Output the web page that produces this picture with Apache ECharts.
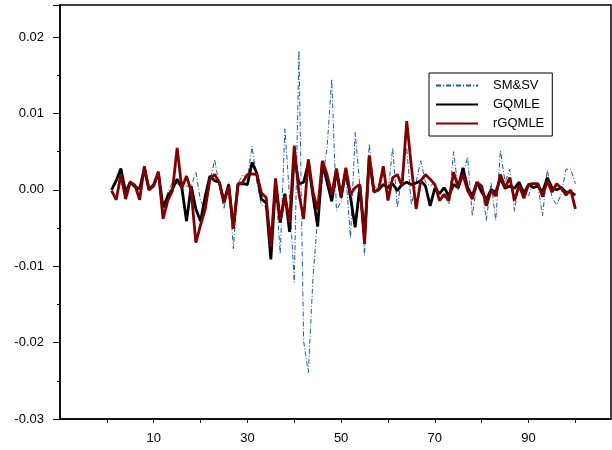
<!DOCTYPE html>
<html>
<head>
<meta charset="utf-8">
<script src="https://cdn.jsdelivr.net/npm/echarts@6/dist/echarts.min.js"></script>
<style>
  html, body { margin: 0; padding: 0; background: #fff; }
  #chart { width: 612px; height: 450px; }
</style>
</head>
<body>
<div id="chart"></div>
<script>
// x positions 1..100
const steps = Array.from({ length: 100 }, (_, k) => k + 1);

// values in units of 0.001
const smsv = [
  0.0, 1.5, 1.0, -0.5, 1.2, 0.3, -0.5, 2.0, 0.5, 0.3,
  1.8, -2.8, -0.3, 1.0, 0.8, 0.5, 0.5, 0.5, 2.3, -1.5,
  -2.5, 1.0, 4.0, 0.5, -2.5, 1.0, -7.7, 0.8, 2.0, 1.5,
  5.7, 1.0, -2.0, -2.3, -5.5, 1.0, -8.4, 8.0, -1.0, -12.1,
  18.2, -19.8, -23.9, -11.5, -3.6, 1.2, 5.5, 14.5, -2.7, -1.5,
  2.0, -6.3, 7.5, 0.5, -8.6, 6.0, 0.5, 0.0, 2.0, -0.5,
  5.5, -2.3, 2.0, 5.5, -2.0, 1.0, 3.8, 1.0, 0.5, 1.0,
  -0.5, -1.0, -1.8, 5.0, 0.0, 2.0, 4.3, -3.4, 1.0, 0.5,
  -4.0, 1.0, -4.0, 5.1, 1.0, 2.7, -2.8, 1.0, 0.0, -0.8,
  1.0, 0.5, -3.4, 2.7, -1.0, -2.0, -0.5, 2.7, 2.7, 0.8
];
const gqmle = [
  0.0, 1.2, 2.8, -0.3, 1.0, 0.4, 0.1, 2.8, 0.0, 0.7,
  2.2, -2.3, -0.8, 0.1, 1.4, 0.3, -4.1, 0.5, -2.5, -4.1,
  -0.8, 1.8, 1.2, 1.0, -1.5, 0.7, -5.0, 0.8, 0.8, 0.7,
  3.6, 2.2, -1.2, -1.7, -9.1, 0.8, -4.3, -0.5, -5.5, 4.5,
  0.8, 1.0, 3.5, -0.8, -4.8, 3.6, 1.0, -1.5, 2.5, -1.0,
  2.5, -1.0, -4.9, 0.5, -6.0, 4.2, -0.2, 0.0, 0.7, 0.3,
  0.8, -0.1, 0.7, 1.0, 0.7, 0.9, 1.2, 0.5, -2.1, 0.2,
  -0.5, 0.3, -0.8, 0.7, 0.3, 2.9, 0.3, -0.8, 1.0, -0.3,
  -1.2, 0.0, -0.3, 1.5, 0.2, 0.5, 0.2, 1.0, -0.5, 0.7,
  0.3, 0.5, -0.3, 1.6, 0.3, 0.0, 0.3, -0.3, -0.3, -0.7
];
const rgqmle = [
  -0.1, -1.3, 2.0, -1.2, 1.0, 0.6, -1.3, 3.1, 0.0, 0.5,
  2.4, -3.8, -1.4, -0.1, 5.5, 0.2, 1.8, -0.2, -6.9, -4.6,
  -2.5, 1.4, 2.0, 1.0, -1.7, 0.5, -5.1, 0.7, 1.0, 2.0,
  2.1, 2.0, -0.4, -1.0, -7.5, 1.5, -4.0, -0.8, -4.2, 5.8,
  -0.5, -3.8, 4.0, -0.3, -2.6, 3.8, 2.0, -0.6, 2.8, -0.8,
  2.9, -0.6, 0.3, 0.7, -7.1, 4.5, -0.3, 0.0, 3.1, -1.4,
  1.6, 2.0, 0.5, 9.0, 3.0, -2.5, 1.2, 2.0, 1.4, 0.7,
  -1.4, -0.6, -1.4, 2.3, 0.3, 2.0, -0.1, -1.2, 1.0, 0.5,
  -2.1, -0.1, -0.8, 2.0, 0.3, 1.6, -1.4, 0.6, -1.1, 0.7,
  0.8, 0.8, -0.9, 1.2, -0.3, 0.8, 0.2, -0.7, 0.0, -2.5
];

const xLabels = [10, 30, 50, 70, 90];
const yLabels = [-0.03, -0.02, -0.01, 0.00, 0.01, 0.02];

const pairs = (ys) => steps.map((x, k) => [x, ys[k] / 1000]);
const font = 'Liberation Sans, Arial, sans-serif';

const chart = echarts.init(document.getElementById('chart'));
chart.setOption({
  animation: false,
  backgroundColor: '#fff',
  grid: {
    left: 60, right: 1, top: 5, bottom: 31,
    show: true, borderColor: '#000', borderWidth: 1.5
  },
  legend: {
    orient: 'vertical',
    left: 429, top: 73,
    backgroundColor: '#fff',
    borderColor: '#000', borderWidth: 1, borderRadius: 0,
    padding: [6, 8, 6, 6],
    itemWidth: 42, itemHeight: 13, itemGap: 6,
    itemStyle: { opacity: 0 },
    textStyle: { fontFamily: font, fontSize: 13, color: '#000', padding: [0, 0, 0, 10] },
    data: ['SM&SV', 'GQMLE', 'rGQMLE']
  },
  xAxis: {
    type: 'value',
    min: -10, max: 107.6, interval: 10,
    splitLine: { show: false },
    axisLine: { onZero: false, lineStyle: { color: '#000', width: 1.5 } },
    axisTick: { length: 4, lineStyle: { color: '#000' } },
    axisLabel: {
      margin: 13,
      fontFamily: font, fontSize: 13, color: '#000',
      showMinLabel: false, showMaxLabel: false,
      formatter: (v) => (xLabels.includes(Math.round(v)) && Math.abs(v - Math.round(v)) < 1e-6 ? String(Math.round(v)) : '')
    }
  },
  yAxis: {
    type: 'value',
    min: -0.03, max: 0.0242, interval: 0.01,
    splitLine: { show: false },
    axisLine: { show: true, onZero: false, lineStyle: { color: '#000', width: 1.5 } },
    axisTick: { show: true, length: 7, lineStyle: { color: '#000' } },
    minorTick: { show: true, splitNumber: 2, length: 3, lineStyle: { color: '#000' } },
    axisLabel: {
      margin: 16,
      fontFamily: font, fontSize: 13, color: '#000',
      showMaxLabel: false,
      formatter: (v) => {
        const hit = yLabels.find((t) => Math.abs(t - v) < 1e-6);
        return hit === undefined ? '' : hit.toFixed(2);
      }
    }
  },
  series: [
    {
      name: 'SM&SV', type: 'line', data: pairs(smsv), symbol: 'none',
      lineStyle: { color: '#1f5aa6', width: 1, type: [5, 2, 1, 2] },
      itemStyle: { color: '#1f5aa6' }
    },
    {
      name: 'GQMLE', type: 'line', data: pairs(gqmle), symbol: 'none',
      lineStyle: { color: '#000', width: 2.8 },
      itemStyle: { color: '#000' }
    },
    {
      name: 'rGQMLE', type: 'line', data: pairs(rgqmle), symbol: 'none',
      lineStyle: { color: '#800000', width: 2.8 },
      itemStyle: { color: '#800000' }
    }
  ]
});
</script>
</body>
</html>
